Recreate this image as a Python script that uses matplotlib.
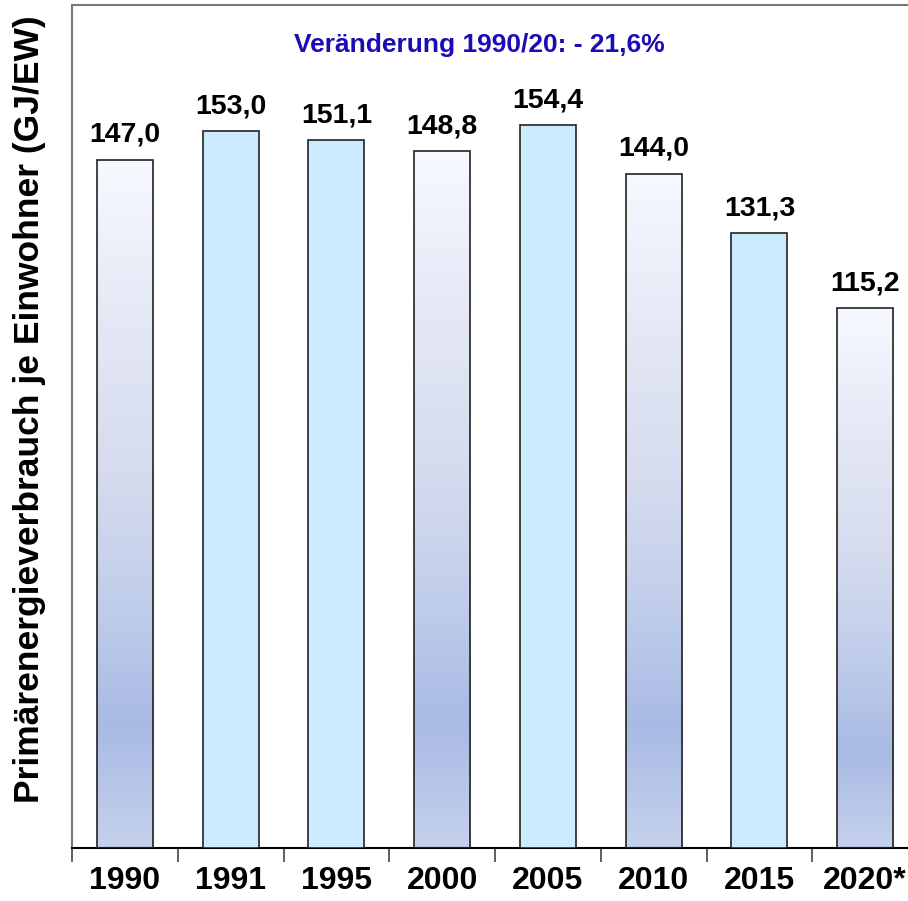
import matplotlib
matplotlib.use("Agg")
import matplotlib.pyplot as plt
import numpy as np
from matplotlib.colors import LinearSegmentedColormap

plt.rcParams['font.family'] = ['Liberation Sans', 'DejaVu Sans']

categories = ["1990", "1991", "1995", "2000", "2005", "2010", "2015", "2020*"]
values = [147.0, 153.0, 151.1, 148.8, 154.4, 144.0, 131.3, 115.2]
gradient_bar = [True, False, False, True, False, True, False, True]
title_text = "Veränderung 1990/20: - 21,6%"
ylabel_text = "Primärenergieverbrauch je Einwohner (GJ/EW)"

fig = plt.figure(figsize=(9.08, 9.01), dpi=100)
W, H = 908, 901
ax_left, ax_right, ax_bottom, ax_top = 72, 918, 848, 5
ax = fig.add_axes([ax_left / W, (H - ax_bottom) / H, (ax_right - ax_left) / W, (ax_bottom - ax_top) / H])
ax.set_xlim(-0.5, len(categories) - 0.5)
ax.set_ylim(0, 180)

cmap = LinearSegmentedColormap.from_list("grad", [
    (0.0, "#F6F9FF"),
    (0.25, "#E3E7F5"),
    (0.45, "#D6DCEE"),
    (0.65, "#C0CDEA"),
    (0.82, "#A9BAE4"),
    (1.0, "#C5D1EC"),
])

width = 0.53
x = np.arange(len(categories))
for i, (v, g) in enumerate(zip(values, gradient_bar)):
    if g:
        ax.bar(x[i], v, width=width, color="none", edgecolor="#222222", linewidth=1.2, zorder=3)
        grad = np.linspace(0, 1, 256).reshape(-1, 1)
        ax.imshow(grad, cmap=cmap, aspect="auto",
                  extent=[x[i] - width / 2, x[i] + width / 2, 0, v],
                  origin="upper", zorder=2)
    else:
        ax.bar(x[i], v, width=width, color="#CCEBFE", edgecolor="#222222", linewidth=1.2, zorder=3)
    ax.text(x[i], v + 3.8, f"{v:.1f}".replace(".", ","), ha="center", va="baseline",
            fontsize=20.5, fontweight="bold", color="black")

ax.set_xlim(-0.5, len(categories) - 0.5)
ax.set_ylim(0, 180)

ax.set_xticks(np.arange(len(categories) + 1) - 0.5, minor=False)
ax.set_xticklabels([])
ax.set_xticks(x, minor=True)
ax.set_xticklabels(categories, minor=True, fontsize=23, fontweight="bold")
ax.tick_params(axis="x", which="major", direction="out", length=10, width=1.2, color="#444444")
ax.tick_params(axis="x", which="minor", length=0, pad=13)
ax.set_yticks([])

for s in ["left", "top"]:
    ax.spines[s].set_color("#777777")
    ax.spines[s].set_linewidth(1.5)
ax.spines["right"].set_visible(False)
ax.spines["bottom"].set_color("black")
ax.spines["bottom"].set_linewidth(1.5)

fig.text(479 / W, 1 - 45 / H, title_text, ha="center", va="center", fontsize=19,
         fontweight="bold", color="#1A0DB5")
fig.text(30 / W, 1 - 409 / H, ylabel_text, rotation=90, ha="center", va="center",
         fontsize=25.5, fontweight="bold", color="black")

fig.savefig("out.png", dpi=100)
